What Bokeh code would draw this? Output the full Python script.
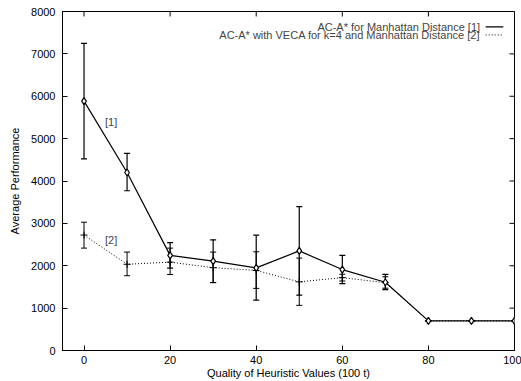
from bokeh.plotting import figure
from bokeh.models import (ColumnDataSource, Whisker, TeeHead, Range1d, FixedTicker, Label)
from bokeh.embed import file_html
from bokeh.resources import INLINE

# ---- data ----
quality = [0, 10, 20, 30, 40, 50, 60, 70, 80, 90, 100]
s1_mean = [5885, 4200, 2245, 2110, 1950, 2350, 1910, 1610, 700, 700, 700]
s1_low = [4520, 3770, 1945, 1605, 1190, 1305, 1576, 1435, 700, 700, 700]
s1_high = [7250, 4650, 2548, 2612, 2722, 3395, 2243, 1795, 700, 700, 700]
s2_mean = [2725, 2035, 2085, 1955, 1890, 1620, 1720, 1600, 700, 700, 700]
s2_low = [2416, 1765, 1795, 1600, 1466, 1066, 1640, 1470, 700, 700, 700]
s2_high = [3028, 2322, 2416, 2322, 2329, 2181, 1800, 1740, 700, 700, 700]
s1_name = "AC-A* for Manhattan Distance [1]"
s2_name = "AC-A* with VECA for k=4 and Manhattan Distance [2]"
x_ticks = [0, 20, 40, 60, 80, 100]
y_ticks = [0, 1000, 2000, 3000, 4000, 5000, 6000, 7000, 8000]

FONT = "Liberation Sans"
FS = "11px"
X_MIN, X_MAX, Y_MIN, Y_MAX = -5, 100, 0, 8000
W, H = 521, 381
B_LEFT, B_RIGHT, B_TOP, B_BOTTOM = 62, 7, 11, 30
TICK = 5

src1 = ColumnDataSource(dict(x=quality, y=s1_mean, lo=s1_low, hi=s1_high))
src2 = ColumnDataSource(dict(x=quality, y=s2_mean, lo=s2_low, hi=s2_high))

p = figure(width=W, height=H, output_backend="svg", toolbar_location=None,
           x_range=Range1d(X_MIN, X_MAX), y_range=Range1d(Y_MIN, Y_MAX),
           min_border_left=B_LEFT, min_border_right=B_RIGHT, min_border_top=B_TOP,
           min_border_bottom=B_BOTTOM)
p.background_fill_color = "white"
p.border_fill_color = "white"
p.grid.visible = False
p.outline_line_color = "black"
p.outline_line_width = 1

for ax in (p.xaxis[0], p.yaxis[0]):
    ax.major_tick_in = TICK
    ax.major_tick_out = 0
    ax.minor_tick_in = 0
    ax.minor_tick_out = 0
    ax.axis_line_color = "black"
    ax.major_label_text_font = FONT
    ax.major_label_text_font_size = FS
    ax.major_label_text_color = "black"
    ax.axis_label_text_font = FONT
    ax.axis_label_text_font_size = FS
    ax.axis_label_text_font_style = "normal"
    ax.axis_label_text_color = "black"

p.xaxis.ticker = FixedTicker(ticks=x_ticks)
p.yaxis.ticker = FixedTicker(ticks=y_ticks)
p.xaxis.axis_label = "Quality of Heuristic Values (100 t)"
p.yaxis.axis_label = "Average Performance"
p.xaxis.major_label_standoff = 5
p.xaxis.axis_label_standoff = 0
p.yaxis.major_label_standoff = 7
p.yaxis.axis_label_standoff = 7

# mirrored ticks on top and right edges (gnuplot style)
frame_w = W - B_LEFT - B_RIGHT
frame_h = H - B_TOP - B_BOTTOM
dy = TICK * (Y_MAX - Y_MIN) / frame_h
dx = TICK * (X_MAX - X_MIN) / frame_w
p.segment(x0=x_ticks, y0=[Y_MAX] * len(x_ticks), x1=x_ticks, y1=[Y_MAX - dy] * len(x_ticks),
          line_color="black", line_width=1)
p.segment(x0=[X_MAX] * len(y_ticks), y0=y_ticks, x1=[X_MAX - dx] * len(y_ticks), y1=y_ticks,
          line_color="black", line_width=1)

# series 2 (dotted)
p.line("x", "y", source=src2, line_color="black", line_width=1, line_dash="1 2")
p.add_layout(Whisker(source=src2, base="x", lower="lo", upper="hi", line_color="black",
                     line_width=1,
                     lower_head=TeeHead(size=6, line_color="black", line_width=1),
                     upper_head=TeeHead(size=6, line_color="black", line_width=1)))
p.scatter("x", "y", source=src2, marker="cross", size=7, line_color="black",
          line_width=1)

# series 1 (solid)
p.line("x", "y", source=src1, line_color="black", line_width=1.2)
p.add_layout(Whisker(source=src1, base="x", lower="lo", upper="hi", line_color="black",
                     line_width=1.2,
                     lower_head=TeeHead(size=6, line_color="black", line_width=1.2),
                     upper_head=TeeHead(size=6, line_color="black", line_width=1.2)))
p.scatter("x", "y", source=src1, marker="diamond", size=7, line_color="black",
          fill_color="white", line_width=1.2)

# in-plot annotations
p.add_layout(Label(x=6.3, y=5400, text="[1]", text_font=FONT, text_font_size=FS,
                   text_align="center", text_baseline="middle"))
p.add_layout(Label(x=6.3, y=2600, text="[2]", text_font=FONT, text_font_size=FS,
                   text_align="center", text_baseline="middle"))

# gnuplot-style key (text right, sample line at right)
key_text_x = 92.0
key_line_x = [93.3, 97.4]
key_y = [7635, 7447]
p.add_layout(Label(x=key_text_x, y=key_y[0], text=s1_name, text_font=FONT,
                   text_font_size=FS, text_align="right", text_baseline="middle"))
p.add_layout(Label(x=key_text_x, y=key_y[1], text=s2_name, text_font=FONT,
                   text_font_size=FS, text_align="right", text_baseline="middle"))
p.line(key_line_x, [key_y[0]] * 2, line_color="black", line_width=1.2)
p.line(key_line_x, [key_y[1]] * 2, line_color="black", line_width=1, line_dash="1 2")

open("out.html", "w").write(file_html(p, INLINE))
